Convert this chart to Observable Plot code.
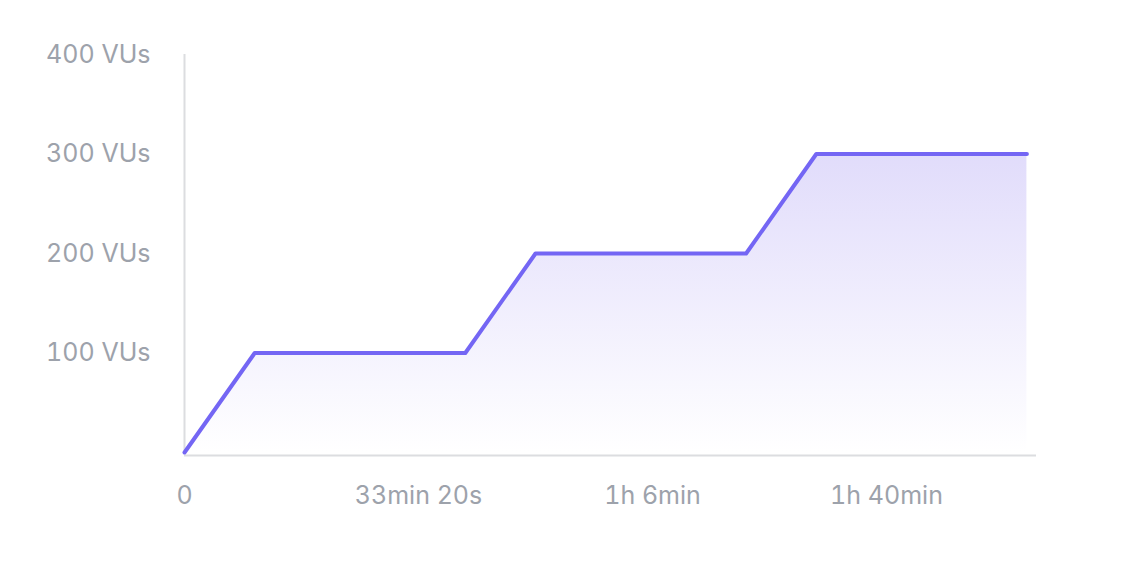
<!DOCTYPE html>
<html>
<head>
<meta charset="utf-8">
<script src="https://cdn.jsdelivr.net/npm/d3@7"></script>
<script src="https://cdn.jsdelivr.net/npm/@observablehq/plot@0.6"></script>
<style>
  html, body { margin: 0; padding: 0; background: #fff; }
  #chart svg { display: block; }
</style>
</head>
<body>
<div id="chart"></div>
<script>
// time in seconds, virtual users
const times = [0, 600, 2400, 3000, 4800, 5400, 7200];
const vus = [0, 100, 100, 200, 200, 300, 300];
const xTicks = [0, 2000, 4000, 6000];
const xTickLabels = ["0", "33min 20s", "1h 6min", "1h 40min"];
const yTicks = [100, 200, 300, 400];
const yTickLabels = ["100 VUs", "200 VUs", "300 VUs", "400 VUs"];

const data = times.map((t, i) => ({t, v: vus[i]}));

const defs = () => {
  const d = d3.create("svg:defs");
  const g = d.append("linearGradient").attr("id", "areaGrad")
    .attr("x1", 0).attr("y1", 0).attr("x2", 0).attr("y2", 1);
  g.append("stop").attr("offset", "0%").attr("stop-color", "#e1dcfb");
  g.append("stop").attr("offset", "100%").attr("stop-color", "#ffffff");
  return d.node();
};

const chart = Plot.plot({
  width: 1132,
  height: 568,
  marginLeft: 184,
  marginRight: 96,
  marginTop: 54,
  marginBottom: 116,
  style: {fontFamily: "Inter, sans-serif", fontSize: "25px", color: "#9da2ab", background: "#fff"},
  x: {domain: [0, 7282], ticks: xTicks, tickFormat: (d) => xTickLabels[xTicks.indexOf(d)], tickSize: 0, tickPadding: 34, label: null},
  y: {domain: [0, 400], ticks: yTicks, tickFormat: (d) => yTickLabels[yTicks.indexOf(d)], tickSize: 0, tickPadding: 34, label: null},
  marks: [
    defs,
    Plot.areaY(data, {x: "t", y: "v", fill: "url(#areaGrad)"}),
    Plot.ruleX([0], {y1: 0, y2: 400, stroke: "#dcdde0", strokeWidth: 2}),
    Plot.ruleY([0], {x1: 0, x2: 7282, stroke: "#dcdde0", strokeWidth: 2, dy: 3}),
    Plot.line(data, {x: "t", y: "v", stroke: "#7466f4", strokeWidth: 4, strokeLinecap: "round", strokeLinejoin: "round"})
  ]
});
document.getElementById("chart").appendChild(chart);
</script>
</body>
</html>
